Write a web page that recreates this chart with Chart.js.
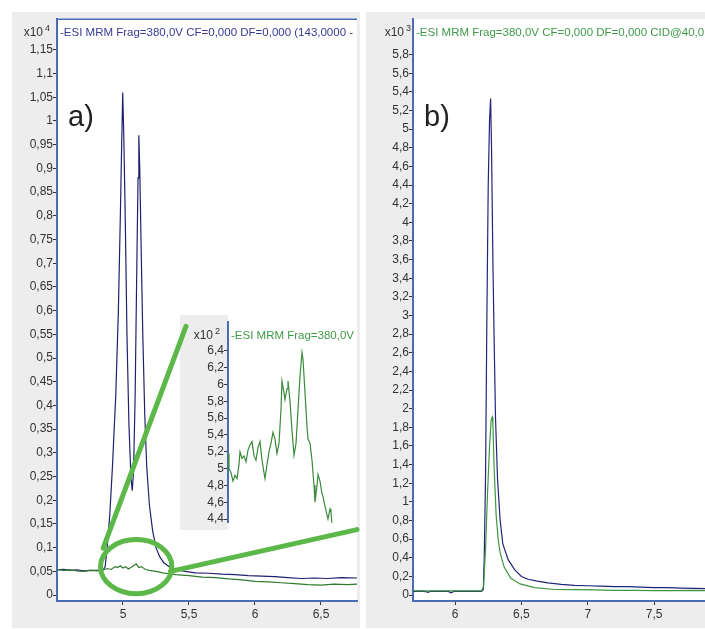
<!DOCTYPE html>
<html>
<head>
<meta charset="utf-8">
<script src="https://cdn.jsdelivr.net/npm/chart.js@4"></script>
<style>
  body { margin: 0; background: #fff; width: 705px; height: 629px; overflow: hidden; position: relative; }
  .panel { position: absolute; background: #ededed; }
  canvas { position: absolute; left: 0; top: 0; }
</style>
</head>
<body>
<div class="panel" style="left:12px;top:12px;width:348px;height:616px">
  <canvas id="chartA" width="348" height="616"></canvas>
  <canvas id="inset" width="177" height="215" style="left:168px;top:303px"></canvas>
  <canvas id="marks" width="348" height="616"></canvas>
</div>
<div class="panel" style="left:366px;top:12px;width:339px;height:616px">
  <canvas id="chartB" width="339" height="616"></canvas>
</div>
<script>
// a) counts x10^4 vs acquisition time (min)
const timeBlueA = [4.50, 4.55, 4.60, 4.65, 4.70, 4.75, 4.80, 4.85, 4.865, 4.88, 4.90, 4.92, 4.945, 4.965, 4.98, 4.99, 4.998,
  5.006, 5.018, 5.03, 5.045, 5.06, 5.07, 5.08, 5.092, 5.105, 5.114, 5.12, 5.127, 5.137, 5.15, 5.165, 5.18, 5.20, 5.225,
  5.25, 5.28, 5.31, 5.35, 5.40, 5.47, 5.55, 5.65, 5.75, 5.85, 5.95, 6.05, 6.15, 6.25, 6.35, 6.45, 6.55, 6.65, 6.773];
const blueA = [0.053, 0.054, 0.052, 0.053, 0.051, 0.052, 0.052, 0.053, 0.06, 0.1, 0.17, 0.27, 0.42, 0.6, 0.8, 0.95, 1.06,
  0.97, 0.78, 0.55, 0.36, 0.25, 0.22, 0.26, 0.42, 0.7, 0.88, 0.97, 0.9, 0.74, 0.55, 0.38, 0.27, 0.19, 0.135,
  0.1, 0.08, 0.068, 0.06, 0.054, 0.05, 0.047, 0.046, 0.044, 0.043, 0.041, 0.040, 0.039, 0.037, 0.035, 0.036, 0.035, 0.037, 0.036];
const timeGreenA = [4.50, 4.55, 4.60, 4.65, 4.70, 4.75, 4.80, 4.85, 4.88, 4.91, 4.94, 4.96, 4.98, 5.00, 5.02, 5.04, 5.06,
  5.08, 5.10, 5.12, 5.14, 5.17, 5.20, 5.25, 5.30, 5.35, 5.40, 5.50, 5.60, 5.70, 5.80, 5.90, 6.00, 6.10, 6.20, 6.30, 6.40,
  6.50, 6.60, 6.70, 6.773];
const greenA = [0.054, 0.052, 0.053, 0.051, 0.05, 0.052, 0.051, 0.053, 0.056, 0.054, 0.06, 0.058, 0.062, 0.057, 0.06, 0.055, 0.058,
  0.062, 0.066, 0.058, 0.06, 0.054, 0.052, 0.05, 0.047, 0.045, 0.043, 0.041, 0.038, 0.037, 0.034, 0.032, 0.029, 0.028, 0.026, 0.024, 0.022,
  0.021, 0.023, 0.022, 0.023];

// zoomed green trace, counts x10^2
const timeInset = [4.900, 4.9025, 4.9075, 4.9125, 4.9175, 4.9225, 4.9275, 4.930, 4.935, 4.940,
  4.945, 4.950, 4.955, 4.960, 4.965, 4.970, 4.975, 4.980, 4.985, 4.990,
  4.9925, 4.9975, 5.0025, 5.0075, 5.0125, 5.0175, 5.0225, 5.0275, 5.0325, 5.035,
  5.040, 5.0425, 5.0475, 5.050, 5.055, 5.060, 5.065, 5.070, 5.075, 5.080,
  5.085, 5.0875, 5.0925, 5.0975, 5.100, 5.105, 5.110, 5.115, 5.1175, 5.1225,
  5.125, 5.130, 5.135, 5.1375, 5.1425, 5.1475, 5.150, 5.155, 5.1575, 5.160];
const greenInset = [5.18, 5.00, 4.95, 4.85, 4.92, 4.88, 5.05, 5.20, 5.12, 5.15,
  5.08, 5.22, 5.28, 5.32, 5.15, 5.10, 5.25, 5.32, 5.10, 4.95,
  4.88, 5.05, 5.20, 5.30, 5.43, 5.35, 5.18, 5.30, 5.70, 6.04,
  5.90, 5.82, 5.95, 6.04, 5.80, 5.45, 5.16, 5.30, 5.70, 6.10,
  6.38, 6.30, 5.90, 5.50, 5.35, 5.30, 5.10, 4.80, 4.60, 4.80,
  4.93, 4.85, 4.70, 4.67, 4.55, 4.45, 4.40, 4.52, 4.48, 4.33];

// b) counts x10^3
const timeBlueB = [5.683, 5.72, 5.76, 5.80, 5.81, 5.85, 5.90, 5.95, 5.97, 5.99, 6.05, 6.10, 6.15, 6.20, 6.213, 6.22, 6.23, 6.24,
  6.25, 6.26, 6.268, 6.275, 6.285, 6.295, 6.305, 6.32, 6.34, 6.36, 6.40, 6.45, 6.50, 6.55, 6.62, 6.70, 6.80, 6.90, 7.00,
  7.10, 7.20, 7.30, 7.40, 7.50, 7.60, 7.70, 7.80, 7.884];
const blueB = [0.04, 0.04, 0.042, 0.03, 0.04, 0.04, 0.041, 0.04, 0.025, 0.04, 0.04, 0.041, 0.04, 0.04, 0.06, 0.4, 1.3, 3.0,
  4.4, 5.1, 5.33, 4.8, 3.6, 2.7, 1.9, 1.25, 0.8, 0.55, 0.38, 0.27, 0.2, 0.17, 0.15, 0.13, 0.115, 0.105, 0.1,
  0.095, 0.09, 0.09, 0.085, 0.08, 0.08, 0.075, 0.072, 0.07];
const timeGreenB = [5.683, 5.75, 5.80, 5.85, 5.90, 5.95, 6.00, 6.05, 6.10, 6.15, 6.20, 6.215, 6.23, 6.245, 6.26, 6.272, 6.28,
  6.285, 6.295, 6.31, 6.325, 6.34, 6.37, 6.42, 6.49, 6.60, 6.75, 6.90, 7.05, 7.20, 7.35, 7.50, 7.65, 7.80, 7.884];
const greenB = [0.045, 0.044, 0.046, 0.045, 0.044, 0.045, 0.046, 0.045, 0.044, 0.045, 0.045, 0.09, 0.5, 1.1, 1.6, 1.88, 1.91,
  1.85, 1.35, 0.85, 0.6, 0.45, 0.3, 0.18, 0.12, 0.08, 0.06, 0.058, 0.055, 0.05, 0.05, 0.048, 0.047, 0.05, 0.048];

// tick labels
const xTicksA = ["5", "5,5", "6", "6,5"];
const yTicksA = ["0", "0,05", "0,1", "0,15", "0,2", "0,25", "0,3", "0,35", "0,4", "0,45", "0,5", "0,55", "0,6",
  "0,65", "0,7", "0,75", "0,8", "0,85", "0,9", "0,95", "1", "1,05", "1,1", "1,15"];
const yTicksInset = ["4,4", "4,6", "4,8", "5", "5,2", "5,4", "5,6", "5,8", "6", "6,2", "6,4"];
const xTicksB = ["6", "6,5", "7", "7,5"];
const yTicksB = ["0", "0,2", "0,4", "0,6", "0,8", "1", "1,2", "1,4", "1,6", "1,8", "2", "2,2", "2,4", "2,6", "2,8",
  "3", "3,2", "3,4", "3,6", "3,8", "4", "4,2", "4,4", "4,6", "4,8", "5", "5,2", "5,4", "5,6", "5,8"];

// circle + connector lines of the zoom, in panel a data units
const zoomMark = { x: 5.1, y: 0.06, rx: 0.27, ry: 0.057 };
const zoomLines = [[4.85, 0.099, 5.477, 0.567], [5.36, 0.05, 6.773, 0.138]];

const FONT = "'Liberation Sans', Arial, sans-serif";
const AXIS_BLUE = "#4a6cb4";
const num = (s) => parseFloat(s.replace(",", "."));
const pts = (xs, ys) => xs.map((x, i) => ({ x: x, y: ys[i] }));

function fixedAxis(labels, min, max, size, isY, show) {
  return {
    type: "linear",
    min: min,
    max: max,
    display: show !== false,
    afterBuildTicks: (scale) => {
      scale.ticks = labels.map((s) => ({ value: num(s) }));
    },
    afterFit: (scale) => {
      if (isY) scale.width = size;
      else scale.height = size;
    },
    grid: { drawOnChartArea: false, drawTicks: true, tickLength: 4, color: "#333" },
    border: { display: true, color: AXIS_BLUE, width: 2 },
    ticks: {
      autoSkip: false,
      maxRotation: 0,
      padding: isY ? 0 : 2,
      color: "#333",
      font: { family: FONT, size: 12 },
      callback: (v) => labels.find((s) => Math.abs(num(s) - v) < 1e-6) || "",
    },
  };
}

// paints plot background and the header texts
function decor(o) {
  return {
    id: "decor",
    beforeDraw(chart) {
      const { ctx, chartArea: a } = chart;
      ctx.save();
      if (o.grayLabels) {
        ctx.fillStyle = "#ededed";
        ctx.fillRect(0, 0, a.left, chart.height);
        ctx.fillStyle = "#fff";
        ctx.fillRect(a.left, 0, chart.width - a.left, chart.height);
      } else {
        ctx.fillStyle = "#fff";
        ctx.fillRect(a.left, a.top, a.right - a.left, a.bottom - a.top);
      }
      ctx.restore();
    },
    afterDraw(chart) {
      const { ctx, chartArea: a } = chart;
      ctx.save();
      if (o.topLine) {
        ctx.strokeStyle = AXIS_BLUE;
        ctx.lineWidth = 1.5;
        ctx.beginPath();
        ctx.moveTo(a.left, a.top);
        ctx.lineTo(a.right, a.top);
        ctx.stroke();
      }
      const base = a.top + 17;
      ctx.fillStyle = "#333";
      ctx.font = "12px " + FONT;
      ctx.textAlign = "right";
      ctx.textBaseline = "alphabetic";
      ctx.fillText("x10", a.left + o.expDx, base);
      ctx.textAlign = "left";
      ctx.font = "9px " + FONT;
      ctx.fillText(o.exp, a.left + o.expDx + 2, base - 5);
      ctx.font = "11.5px " + FONT;
      ctx.fillStyle = o.titleColor;
      ctx.fillText(o.title, a.left + 3, base);
      if (o.letter) {
        ctx.fillStyle = "#222";
        ctx.font = "29px " + FONT;
        ctx.fillText(o.letter, a.left + 11, a.top + 107);
      }
      ctx.restore();
    },
  };
}

function trace(data, color) {
  return { data: data, borderColor: color, borderWidth: 1.2, pointRadius: 0, tension: 0, fill: false };
}

const common = {
  responsive: false,
  animation: false,
  events: [],
  plugins: { legend: { display: false }, tooltip: { enabled: false } },
};

const chartA = new Chart(document.getElementById("chartA"), {
  type: "line",
  data: {
    datasets: [
      trace(pts(timeGreenA, greenA), "#2e7a2e"),
      trace(pts(timeBlueA, blueA), "#20206f"),
    ],
  },
  options: Object.assign({}, common, {
    layout: { padding: { top: 2, right: 3, left: 0, bottom: 0 } },
    scales: {
      x: fixedAxis(xTicksA, 4.5, 6.773, 27, false),
      y: fixedAxis(yTicksA, -0.0125, 1.2147, 45, true),
    },
  }),
  plugins: [decor({
    topLine: true, expDx: -14, exp: "4", letter: "a)", titleColor: "#3a3a92",
    title: "-ESI MRM Frag=380,0V CF=0,000 DF=0,000 (143,0000 -",
  })],
});

new Chart(document.getElementById("inset"), {
  type: "line",
  data: { datasets: [trace(pts(timeInset, greenInset), "#3b8a3b")] },
  options: Object.assign({}, common, {
    layout: { padding: { top: 3, right: 0, left: 0, bottom: 2 } },
    scales: {
      x: fixedAxis([], 4.9, 5.2225, 0, false, false),
      y: fixedAxis(yTicksInset, 4.355, 6.74, 48, true),
    },
  }),
  plugins: [decor({
    grayLabels: true, expDx: -15, exp: "2", titleColor: "#3f9a48",
    title: "-ESI MRM Frag=380,0V CF=0,000",
  })],
});

new Chart(document.getElementById("chartB"), {
  type: "line",
  data: {
    datasets: [
      trace(pts(timeGreenB, greenB), "#3f963f"),
      trace(pts(timeBlueB, blueB), "#23237a"),
    ],
  },
  options: Object.assign({}, common, {
    layout: { padding: { top: 0, right: 0, left: 0, bottom: 0 } },
    scales: {
      x: fixedAxis(xTicksB, 5.683, 7.884, 27, false),
      y: fixedAxis(yTicksB, -0.0636, 6.18, 47, true),
    },
  }),
  plugins: [decor({
    expDx: -9, exp: "3", letter: "b)", titleColor: "#3f9a48",
    title: "-ESI MRM Frag=380,0V CF=0,000 DF=0,000 CID@40,0",
  })],
});

// zoom marks go over both the main plot and the inset
const mctx = document.getElementById("marks").getContext("2d");
const sx = chartA.scales.x;
const sy = chartA.scales.y;
mctx.strokeStyle = "#5cb848";
mctx.lineWidth = 5;
mctx.lineCap = "round";
zoomLines.forEach((l) => {
  mctx.beginPath();
  mctx.moveTo(sx.getPixelForValue(l[0]), sy.getPixelForValue(l[1]));
  mctx.lineTo(sx.getPixelForValue(l[2]), sy.getPixelForValue(l[3]));
  mctx.stroke();
});
const cx = sx.getPixelForValue(zoomMark.x);
const cy = sy.getPixelForValue(zoomMark.y);
mctx.beginPath();
mctx.ellipse(cx, cy, Math.abs(sx.getPixelForValue(zoomMark.x + zoomMark.rx) - cx),
  Math.abs(sy.getPixelForValue(zoomMark.y + zoomMark.ry) - cy), 0, 0, 2 * Math.PI);
mctx.stroke();
</script>
</body>
</html>
